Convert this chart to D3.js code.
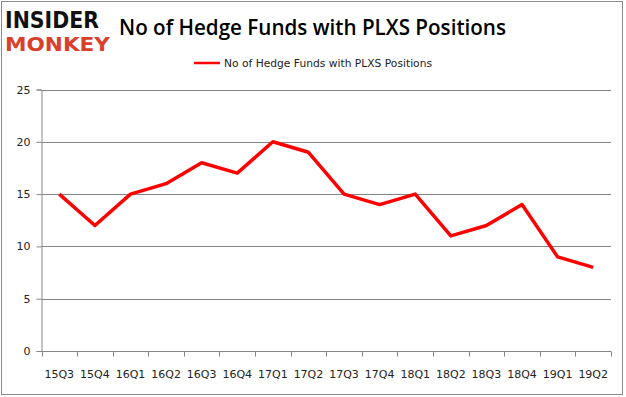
<!DOCTYPE html>
<html>
<head>
<meta charset="utf-8">
<script src="https://d3js.org/d3.v7.min.js"></script>
<style>
  body { margin: 0; background: #fff; }
  text { font-family: "DejaVu Sans", sans-serif; }
</style>
</head>
<body>
<div id="chart"></div>
<script>
var quarters = ["15Q3", "15Q4", "16Q1", "16Q2", "16Q3", "16Q4", "17Q1", "17Q2",
                "17Q3", "17Q4", "18Q1", "18Q2", "18Q3", "18Q4", "19Q1", "19Q2"];
var funds = [15, 12, 15, 16, 18, 17, 20, 19, 15, 14, 15, 11, 12, 14, 9, 8];
var yTicks = [0, 5, 10, 15, 20, 25];
var seriesName = "No of Hedge Funds with PLXS Positions";

var width = 626, height = 397;
var plotLeft = 41.5, plotRight = 611, plotTop = 89.5, plotBottom = 351;

var svg = d3.select("#chart").append("svg")
    .attr("width", width)
    .attr("height", height);

// frame
svg.append("rect")
    .attr("x", 1.5).attr("y", 1.5)
    .attr("width", 621).attr("height", 393)
    .style("fill", "none")
    .style("stroke", "#8c8c8c");

// logo
svg.append("text")
    .attr("x", 5).attr("y", 27.5)
    .style("font-family", "'DejaVu Sans'")
    .style("font-weight", "bold")
    .style("font-size", "23px")
    .attr("textLength", 94)
    .attr("lengthAdjust", "spacingAndGlyphs")
    .style("fill", "#111")
    .text("INSIDER");
svg.append("text")
    .attr("x", 5).attr("y", 51)
    .style("font-family", "'DejaVu Sans'")
    .style("font-weight", "bold")
    .style("font-size", "20px")
    .attr("textLength", 105)
    .attr("lengthAdjust", "spacingAndGlyphs")
    .style("fill", "#d9402b")
    .text("MONKEY");

// title
svg.append("text")
    .attr("x", 119).attr("y", 35)
    .style("font-family", "'Open Sans'")
    .style("font-size", "22px")
    .style("font-weight", "600")
    .attr("textLength", 387)
    .attr("lengthAdjust", "spacingAndGlyphs")
    .style("fill", "#000")
    .text("No of Hedge Funds with PLXS Positions");

// legend
svg.append("line")
    .attr("x1", 194).attr("x2", 220)
    .attr("y1", 63).attr("y2", 63)
    .style("stroke", "#ff0000")
    .style("stroke-width", 2.5);
svg.append("text")
    .attr("x", 224).attr("y", 67)
    .style("font-size", "11px")
    .attr("textLength", 208)
    .attr("lengthAdjust", "spacingAndGlyphs")
    .style("fill", "#222")
    .text(seriesName);

var x = d3.scaleBand().domain(quarters).range([plotLeft, plotRight]);
var y = d3.scaleLinear().domain([0, 25]).range([plotBottom, plotTop]);

// gridlines
svg.selectAll(".grid")
    .data(yTicks.filter(function (d) { return d > 0; }))
    .enter()
    .append("line")
    .attr("class", "grid")
    .attr("x1", plotLeft).attr("x2", plotRight)
    .attr("y1", function (d) { return Math.round(y(d)) + 0.5; })
    .attr("y2", function (d) { return Math.round(y(d)) + 0.5; })
    .style("stroke", "#868686");

// y axis
var yAxis = svg.append("g")
    .attr("transform", "translate(" + plotLeft + ",0)")
    .call(d3.axisLeft(y).tickValues(yTicks).tickSize(5).tickPadding(6));
yAxis.select(".domain").style("stroke", "#868686");
yAxis.selectAll(".tick line").style("stroke", "#868686");
yAxis.selectAll("text").style("font-size", "11px").style("fill", "#222");

// x axis
var xAxis = svg.append("g")
    .attr("transform", "translate(0," + (plotBottom + 0.5) + ")");
xAxis.append("line")
    .attr("x1", plotLeft).attr("x2", plotRight)
    .style("stroke", "#868686");
var edges = quarters.map(function (q) { return x(q); }).concat([plotRight]);
xAxis.selectAll(".xt")
    .data(edges)
    .enter()
    .append("line")
    .attr("class", "xt")
    .attr("x1", function (d) { return Math.round(d) + 0.5; })
    .attr("x2", function (d) { return Math.round(d) + 0.5; })
    .attr("y1", 0).attr("y2", 5)
    .style("stroke", "#868686");
xAxis.selectAll(".xl")
    .data(quarters)
    .enter()
    .append("text")
    .attr("class", "xl")
    .attr("x", function (d) { return x(d) + x.bandwidth() / 2; })
    .attr("y", 26)
    .attr("text-anchor", "middle")
    .style("font-size", "11px")
    .style("fill", "#222")
    .text(function (d) { return d; });

// line
var line = d3.line()
    .x(function (d, i) { return x(quarters[i]) + x.bandwidth() / 2; })
    .y(function (d) { return y(d); });

svg.append("path")
    .datum(funds)
    .attr("d", line)
    .style("fill", "none")
    .style("stroke", "#ff0000")
    .style("stroke-width", 3.5)
    .style("stroke-linejoin", "round");
</script>
</body>
</html>
